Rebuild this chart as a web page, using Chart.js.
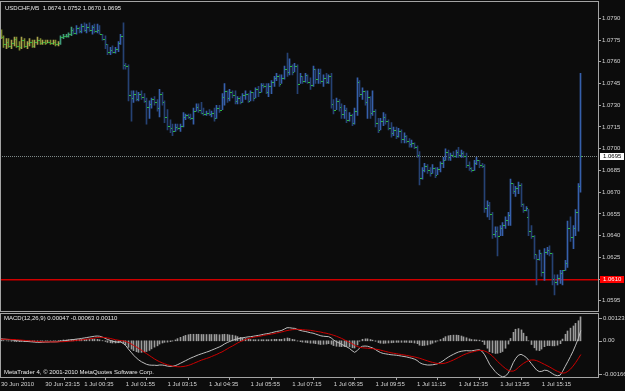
<!DOCTYPE html>
<html>
<head>
<meta charset="utf-8">
<script src="https://cdn.jsdelivr.net/npm/chart.js@4.4.1/dist/chart.umd.min.js"></script>
<style>
  body { margin: 0; background: #0c0c0c; }
  #wrap { position: relative; width: 625px; height: 391px; background: #0c0c0c; overflow: hidden; }
  #wrap canvas { position: absolute; left: 0; }
  #price { top: 0; }
  #macd { top: 312px; }
</style>
</head>
<body>
<div id="wrap">
  <canvas id="price" width="625" height="312"></canvas>
  <canvas id="macd" width="625" height="79"></canvas>
</div>
<script>
// USDCHF M5 bars (bar 0 = first bar on the left)
const symbol = 'USDCHF,M5'

const opens = [
  1.0781, 1.0777, 1.0772, 1.0774, 1.0771, 1.0773, 1.0776, 1.0771, 1.0770, 1.0775,
  1.0771, 1.0773, 1.0774, 1.0771, 1.0774, 1.0775, 1.0773, 1.0774, 1.0773, 1.0774,
  1.0773, 1.0774, 1.0772, 1.0773, 1.0777, 1.0778, 1.0778, 1.0779, 1.0782, 1.0780,
  1.0783, 1.0781, 1.0785, 1.0782, 1.0784, 1.0782, 1.0784, 1.0781, 1.0782, 1.0779,
  1.0776, 1.0772, 1.0767, 1.0768, 1.0767, 1.0769, 1.0773, 1.0778, 1.0758, 1.0757,
  1.0737, 1.0735, 1.0738, 1.0734, 1.0738, 1.0736, 1.0733, 1.0729, 1.0731, 1.0734,
  1.0732, 1.0728, 1.0738, 1.0732, 1.0722, 1.0716, 1.0714, 1.0712, 1.0715, 1.0714,
  1.0716, 1.0722, 1.0723, 1.0722, 1.0721, 1.0726, 1.0729, 1.0727, 1.0725, 1.0724,
  1.0725, 1.0724, 1.0725, 1.0721, 1.0728, 1.0727, 1.0736, 1.0740, 1.0735, 1.0739,
  1.0737, 1.0733, 1.0735, 1.0732, 1.0737, 1.0738, 1.0733, 1.0739, 1.0735, 1.0741,
  1.0739, 1.0744, 1.0743, 1.0739, 1.0743, 1.0746, 1.0749, 1.0750, 1.0745, 1.0749,
  1.0755, 1.0753, 1.0757, 1.0753, 1.0757, 1.0745, 1.0750, 1.0747, 1.0751, 1.0746,
  1.0744, 1.0755, 1.0748, 1.0752, 1.0747, 1.0749, 1.0746, 1.0750, 1.0731, 1.0727,
  1.0733, 1.0729, 1.0724, 1.0727, 1.0720, 1.0723, 1.0718, 1.0726, 1.0746, 1.0738,
  1.0740, 1.0732, 1.0736, 1.0725, 1.0726, 1.0718, 1.0713, 1.0719, 1.0722, 1.0719,
  1.0714, 1.0711, 1.0713, 1.0709, 1.0712, 1.0707, 1.0709, 1.0705, 1.0703, 1.0704,
  1.0701, 1.0696, 1.0680, 1.0685, 1.0688, 1.0685, 1.0683, 1.0687, 1.0682, 1.0686,
  1.0690, 1.0692, 1.0698, 1.0694, 1.0696, 1.0695, 1.0698, 1.0696, 1.0697, 1.0695,
  1.0689, 1.0687, 1.0685, 1.0690, 1.0692, 1.0689, 1.0688, 1.0659, 1.0661, 1.0655,
  1.0641, 1.0643, 1.0640, 1.0645, 1.0647, 1.0651, 1.0654, 1.0676, 1.0671, 1.0673,
  1.0675, 1.0662, 1.0658, 1.0653, 1.0643, 1.0640, 1.0627, 1.0624, 1.0628, 1.0615,
  1.0629, 1.0630, 1.0628, 1.0610, 1.0608, 1.0611, 1.0614, 1.0616, 1.0621, 1.0645,
  1.0639, 1.0645, 1.0656, 1.0674
]
const highs = [
  1.0782, 1.0778, 1.0776, 1.0776, 1.0775, 1.0777, 1.0777, 1.0774, 1.0777, 1.0776,
  1.0774, 1.0776, 1.0775, 1.0775, 1.0777, 1.0776, 1.0775, 1.0775, 1.0775, 1.0775,
  1.0775, 1.0775, 1.0774, 1.0778, 1.0779, 1.0779, 1.0780, 1.0784, 1.0783, 1.0785,
  1.0784, 1.0786, 1.0787, 1.0786, 1.0787, 1.0785, 1.0786, 1.0786, 1.0785, 1.0779,
  1.0778, 1.0772, 1.0770, 1.0771, 1.0770, 1.0774, 1.0779, 1.0787, 1.0759, 1.0758,
  1.0740, 1.0740, 1.0740, 1.0739, 1.0740, 1.0738, 1.0735, 1.0733, 1.0735, 1.0736,
  1.0734, 1.0741, 1.0739, 1.0733, 1.0727, 1.0720, 1.0717, 1.0717, 1.0717, 1.0717,
  1.0725, 1.0724, 1.0724, 1.0724, 1.0728, 1.0731, 1.0731, 1.0732, 1.0728, 1.0726,
  1.0727, 1.0726, 1.0728, 1.0730, 1.0730, 1.0738, 1.0745, 1.0740, 1.0741, 1.0740,
  1.0740, 1.0736, 1.0736, 1.0738, 1.0740, 1.0738, 1.0740, 1.0739, 1.0742, 1.0743,
  1.0745, 1.0745, 1.0745, 1.0745, 1.0747, 1.0750, 1.0752, 1.0751, 1.0751, 1.0757,
  1.0766, 1.0762, 1.0758, 1.0759, 1.0758, 1.0752, 1.0750, 1.0752, 1.0751, 1.0749,
  1.0757, 1.0755, 1.0755, 1.0755, 1.0751, 1.0752, 1.0751, 1.0752, 1.0734, 1.0735,
  1.0734, 1.0731, 1.0730, 1.0728, 1.0725, 1.0724, 1.0728, 1.0749, 1.0747, 1.0742,
  1.0740, 1.0740, 1.0736, 1.0740, 1.0727, 1.0721, 1.0721, 1.0725, 1.0724, 1.0720,
  1.0718, 1.0715, 1.0715, 1.0714, 1.0713, 1.0711, 1.0709, 1.0707, 1.0706, 1.0704,
  1.0702, 1.0698, 1.0687, 1.0690, 1.0689, 1.0687, 1.0689, 1.0687, 1.0687, 1.0691,
  1.0694, 1.0700, 1.0699, 1.0697, 1.0698, 1.0699, 1.0701, 1.0699, 1.0698, 1.0697,
  1.0691, 1.0687, 1.0692, 1.0694, 1.0692, 1.0690, 1.0689, 1.0664, 1.0663, 1.0656,
  1.0646, 1.0646, 1.0647, 1.0649, 1.0653, 1.0656, 1.0679, 1.0676, 1.0674, 1.0677,
  1.0676, 1.0662, 1.0660, 1.0658, 1.0647, 1.0640, 1.0627, 1.0630, 1.0628, 1.0631,
  1.0632, 1.0633, 1.0628, 1.0613, 1.0613, 1.0616, 1.0616, 1.0623, 1.0650, 1.0653,
  1.0647, 1.0658, 1.0676, 1.0752
]
const lows = [
  1.0776, 1.0770, 1.0769, 1.0770, 1.0769, 1.0771, 1.0770, 1.0768, 1.0769, 1.0770,
  1.0769, 1.0771, 1.0770, 1.0770, 1.0772, 1.0772, 1.0772, 1.0772, 1.0773, 1.0772,
  1.0772, 1.0771, 1.0771, 1.0772, 1.0776, 1.0777, 1.0777, 1.0778, 1.0779, 1.0779,
  1.0780, 1.0780, 1.0781, 1.0780, 1.0781, 1.0779, 1.0780, 1.0780, 1.0779, 1.0775,
  1.0769, 1.0765, 1.0765, 1.0766, 1.0766, 1.0767, 1.0772, 1.0755, 1.0755, 1.0733,
  1.0719, 1.0732, 1.0733, 1.0733, 1.0734, 1.0732, 1.0717, 1.0721, 1.0728, 1.0730,
  1.0726, 1.0722, 1.0730, 1.0718, 1.0713, 1.0711, 1.0709, 1.0712, 1.0713, 1.0712,
  1.0715, 1.0720, 1.0721, 1.0720, 1.0717, 1.0726, 1.0725, 1.0724, 1.0723, 1.0723,
  1.0723, 1.0722, 1.0719, 1.0721, 1.0725, 1.0727, 1.0730, 1.0732, 1.0733, 1.0735,
  1.0731, 1.0731, 1.0731, 1.0732, 1.0734, 1.0732, 1.0733, 1.0733, 1.0735, 1.0736,
  1.0739, 1.0742, 1.0738, 1.0736, 1.0738, 1.0743, 1.0747, 1.0743, 1.0745, 1.0748,
  1.0750, 1.0751, 1.0751, 1.0753, 1.0738, 1.0745, 1.0745, 1.0746, 1.0745, 1.0741,
  1.0743, 1.0745, 1.0745, 1.0745, 1.0743, 1.0745, 1.0745, 1.0728, 1.0724, 1.0727,
  1.0726, 1.0721, 1.0721, 1.0718, 1.0719, 1.0716, 1.0717, 1.0723, 1.0736, 1.0734,
  1.0730, 1.0721, 1.0721, 1.0723, 1.0715, 1.0711, 1.0713, 1.0716, 1.0717, 1.0713,
  1.0708, 1.0709, 1.0707, 1.0708, 1.0704, 1.0704, 1.0704, 1.0701, 1.0701, 1.0700,
  1.0694, 1.0675, 1.0679, 1.0684, 1.0683, 1.0681, 1.0683, 1.0680, 1.0682, 1.0684,
  1.0687, 1.0692, 1.0692, 1.0692, 1.0694, 1.0694, 1.0694, 1.0694, 1.0694, 1.0687,
  1.0685, 1.0684, 1.0685, 1.0689, 1.0687, 1.0687, 1.0656, 1.0653, 1.0651, 1.0638,
  1.0639, 1.0626, 1.0640, 1.0640, 1.0645, 1.0647, 1.0647, 1.0669, 1.0667, 1.0669,
  1.0660, 1.0656, 1.0657, 1.0640, 1.0638, 1.0624, 1.0606, 1.0623, 1.0612, 1.0609,
  1.0627, 1.0626, 1.0606, 1.0599, 1.0606, 1.0607, 1.0606, 1.0616, 1.0618, 1.0636,
  1.0631, 1.0640, 1.0643, 1.0670
]
const closes = [
  1.0777, 1.0772, 1.0774, 1.0771, 1.0773, 1.0776, 1.0771, 1.0770, 1.0775, 1.0771,
  1.0773, 1.0774, 1.0771, 1.0774, 1.0775, 1.0773, 1.0774, 1.0773, 1.0774, 1.0773,
  1.0774, 1.0772, 1.0773, 1.0777, 1.0778, 1.0778, 1.0779, 1.0782, 1.0780, 1.0783,
  1.0781, 1.0785, 1.0782, 1.0784, 1.0782, 1.0784, 1.0781, 1.0782, 1.0779, 1.0776,
  1.0772, 1.0767, 1.0768, 1.0767, 1.0769, 1.0773, 1.0778, 1.0758, 1.0757, 1.0737,
  1.0735, 1.0738, 1.0734, 1.0738, 1.0736, 1.0733, 1.0729, 1.0731, 1.0734, 1.0732,
  1.0728, 1.0738, 1.0732, 1.0722, 1.0716, 1.0714, 1.0712, 1.0715, 1.0714, 1.0716,
  1.0722, 1.0723, 1.0722, 1.0721, 1.0726, 1.0729, 1.0727, 1.0725, 1.0724, 1.0725,
  1.0724, 1.0725, 1.0721, 1.0728, 1.0727, 1.0736, 1.0740, 1.0735, 1.0739, 1.0737,
  1.0733, 1.0735, 1.0732, 1.0737, 1.0738, 1.0733, 1.0739, 1.0735, 1.0741, 1.0739,
  1.0744, 1.0743, 1.0739, 1.0743, 1.0746, 1.0749, 1.0750, 1.0745, 1.0749, 1.0755,
  1.0753, 1.0757, 1.0753, 1.0757, 1.0745, 1.0750, 1.0747, 1.0751, 1.0746, 1.0744,
  1.0755, 1.0748, 1.0752, 1.0747, 1.0749, 1.0746, 1.0750, 1.0731, 1.0727, 1.0733,
  1.0729, 1.0724, 1.0727, 1.0720, 1.0723, 1.0718, 1.0726, 1.0746, 1.0738, 1.0740,
  1.0732, 1.0736, 1.0725, 1.0726, 1.0718, 1.0713, 1.0719, 1.0722, 1.0719, 1.0714,
  1.0711, 1.0713, 1.0709, 1.0712, 1.0707, 1.0709, 1.0705, 1.0703, 1.0704, 1.0701,
  1.0696, 1.0680, 1.0685, 1.0688, 1.0685, 1.0683, 1.0687, 1.0682, 1.0686, 1.0690,
  1.0692, 1.0698, 1.0694, 1.0696, 1.0695, 1.0698, 1.0696, 1.0697, 1.0695, 1.0689,
  1.0687, 1.0685, 1.0690, 1.0692, 1.0689, 1.0688, 1.0659, 1.0661, 1.0655, 1.0641,
  1.0643, 1.0640, 1.0645, 1.0647, 1.0651, 1.0654, 1.0676, 1.0671, 1.0673, 1.0675,
  1.0662, 1.0658, 1.0659, 1.0643, 1.0640, 1.0627, 1.0624, 1.0628, 1.0615, 1.0629,
  1.0630, 1.0628, 1.0610, 1.0608, 1.0611, 1.0614, 1.0616, 1.0621, 1.0645, 1.0639,
  1.0645, 1.0656, 1.0674, 1.0695
]

const bidPrice = 1.0695     // grey bid line + white label
const levelPrice = 1.0610   // red horizontal line
const priceTicks = [1.0790, 1.0775, 1.0760, 1.0745, 1.0730, 1.0715, 1.0700,
                    1.0685, 1.0670, 1.0655, 1.0640, 1.0625, 1.0610, 1.0595]

// MACD(12,26,9), values in 0.00001
const MACD_UNIT = 0.00001
const macdMain = [
  9, 8, 7, 6, 4, 3, 1, 0, 0, -2, -3, -4, -5, -6, -7, -7, -7, -6, -6, -5,
  -5, -5, -4, -2, 0, 1, 3, 5, 6, 8, 9, 11, 13, 15, 17, 19, 21, 22, 21, 17,
  12, 6, 2, -2, -5, -6, -5, -12, -22, -38, -52, -66, -78, -88, -96, -102, -108, -111, -112, -112,
  -113, -111, -111, -113, -116, -117, -117, -114, -109, -103, -97, -91, -85, -79, -74, -69, -64, -60, -56, -52,
  -48, -43, -38, -33, -28, -22, -14, -8, -3, 2, 6, 9, 12, 14, 16, 18, 19, 21, 23, 25,
  27, 30, 32, 34, 37, 40, 43, 45, 48, 54, 60, 60, 58, 57, 52, 48, 45, 43, 40, 37,
  35, 31, 27, 23, 21, 20, 19, 13, 3, -4, -10, -16, -22, -28, -35, -45, -53, -45, -32, -25,
  -24, -25, -29, -33, -40, -48, -54, -58, -60, -62, -64, -65, -66, -68, -70, -72, -74, -77, -80, -84,
  -90, -100, -106, -109, -111, -111, -110, -108, -105, -99, -92, -83, -75, -68, -62, -56, -51, -48, -46, -45,
  -46, -46, -44, -42, -41, -48, -64, -86, -110, -125, -140, -152, -160, -166, -161, -150, -128, -100, -80, -66,
  -62, -68, -76, -90, -105, -120, -134, -141, -140, -135, -136, -142, -150, -157, -160, -158, -140, -117, -95, -72,
  -48, -20, 10, 47
]
const macdSignal = [
  7, 7, 7, 7, 6, 6, 5, 4, 3, 2, 1, 0, -1, -2, -3, -4, -5, -5, -5, -5,
  -5, -5, -5, -4, -4, -3, -2, -1, 0, 2, 3, 4, 6, 8, 9, 11, 13, 15, 16, 16,
  15, 13, 11, 8, 5, 3, 1, 0, -3, -8, -14, -21, -28, -35, -43, -51, -59, -67, -75, -83,
  -90, -96, -101, -106, -110, -113, -116, -118, -119, -119, -118, -116, -113, -109, -104, -99, -94, -89, -85, -81,
  -77, -72, -67, -62, -56, -51, -44, -37, -30, -24, -17, -10, -4, 1, 6, 10, 13, 16, 18, 20,
  22, 25, 27, 29, 31, 33, 36, 38, 41, 44, 47, 49, 51, 52, 53, 52, 51, 50, 49, 48,
  46, 44, 42, 40, 37, 35, 32, 29, 25, 21, 16, 11, 5, -1, -7, -13, -20, -26, -30, -32,
  -33, -34, -35, -36, -38, -40, -43, -46, -49, -52, -55, -57, -59, -61, -63, -65, -67, -69, -72, -74,
  -77, -80, -84, -88, -92, -96, -99, -102, -104, -105, -104, -102, -98, -93, -88, -82, -76, -70, -64, -59,
  -55, -52, -49, -46, -44, -44, -47, -52, -60, -70, -82, -95, -106, -117, -127, -135, -139, -139, -133, -122,
  -112, -103, -96, -90, -88, -88, -91, -96, -102, -108, -114, -120, -127, -134, -140, -145, -148, -147, -140, -130,
  -116, -100, -82, -63
]
const macdAxisTicks = [0.00123, 0, -0.00166]

// time axis: bar index -> label
const timeTickBars = [0, 17, 32, 48, 64, 80, 96, 112, 128, 144, 160, 176, 192, 208]
const timeTickLabels = ['30 Jun 2010', '30 Jun 23:15', '1 Jul 00:35', '1 Jul 01:55', '1 Jul 03:15',
  '1 Jul 04:35', '1 Jul 05:55', '1 Jul 07:15', '1 Jul 08:35', '1 Jul 09:55', '1 Jul 11:15',
  '1 Jul 12:35', '1 Jul 13:55', '1 Jul 15:15']

// ---- look ----
const BG = '#0c0c0c'
const FG = '#d4d4d4'
const FRAME = '#a4a4a4'
const FAMILY = '"Liberation Sans", Arial, sans-serif'
const FONT = { family: FAMILY, size: 6 }
const X_MIN = -0.385
const X_MAX = 229.6
const last = closes.length - 1

function barColor(i) {
  const up = closes[i] >= opens[i]
  if (i < 23) return up ? '#a9a54c' : '#808c30'
  if (i < 28) return up ? '#3f9a7a' : '#2f7b5e'
  return up ? '#3660ac' : '#264274'
}

function drawFrame(ctx, top, bottom) {
  ctx.strokeStyle = FRAME
  ctx.lineWidth = 1
  ctx.strokeRect(0.5, top + 0.5, 598, bottom - top)
}

// snap 1px bars onto whole pixels so they stay crisp
function snapBars(meta) {
  meta.data.forEach(el => { el.x = Math.floor(el.x) + 0.5 })
}

const pricePlugin = {
  id: 'mt4price',
  beforeDraw(chart) {
    const ctx = chart.ctx
    ctx.save()
    ctx.fillStyle = BG
    ctx.fillRect(0, 0, chart.width, chart.height)
    ctx.restore()
  },
  beforeDatasetsDraw(chart) {
    const { ctx, chartArea: a, scales: { y } } = chart
    snapBars(chart.getDatasetMeta(0))
    ctx.save()
    ctx.lineWidth = 1
    const yb = Math.round(y.getPixelForValue(bidPrice)) + 0.5
    ctx.strokeStyle = '#7e8888'
    ctx.setLineDash([1, 1])
    ctx.beginPath(); ctx.moveTo(a.left, yb); ctx.lineTo(a.right, yb); ctx.stroke()
    ctx.setLineDash([])
    const yl = Math.round(y.getPixelForValue(levelPrice))
    ctx.fillStyle = '#d00000'
    ctx.fillRect(a.left, yl, a.right - a.left, 1)
    ctx.fillStyle = '#700000'
    ctx.fillRect(a.left, yl + 1, a.right - a.left, 1)
    ctx.restore()
  },
  afterDatasetsDraw(chart) {
    const { ctx, scales: { x, y } } = chart
    ctx.save()
    ctx.fillStyle = '#2fb83e'
    for (let i = 0; i < opens.length; i++) {
      const px = Math.floor(x.getPixelForValue(i))
      ctx.fillRect(px - 1, Math.round(y.getPixelForValue(opens[i])), 1, 1)
      ctx.fillRect(px + 1, Math.round(y.getPixelForValue(closes[i])), 1, 1)
    }
    ctx.restore()
  },
  afterDraw(chart) {
    const { ctx, scales: { y } } = chart
    ctx.save()
    drawFrame(ctx, 1, 311)
    ctx.font = `6px ${FAMILY}`
    ctx.textBaseline = 'middle'
    ctx.textAlign = 'left'
    // price boxes on the axis
    const boxes = [[bidPrice, '#ffffff', '#000000'], [levelPrice, '#ff0000', '#ffffff']]
    boxes.forEach(([p, bg, fg]) => {
      const py = Math.round(y.getPixelForValue(p))
      ctx.fillStyle = bg
      ctx.fillRect(600, py - 3, 24, 7)
      ctx.fillStyle = fg
      ctx.fillText(p.toFixed(4), 603, py + 0.5)
    })
    // title
    ctx.fillStyle = '#e8e8e8'
    const t = `${symbol}  ${opens[last].toFixed(4)} ${highs[last].toFixed(4)} ${lows[last].toFixed(4)} ${closes[last].toFixed(4)}`
    ctx.fillText(t, 5, 8)
    ctx.restore()
  }
}

new Chart(document.getElementById('price'), {
  type: 'bar',
  data: {
    datasets: [{
      data: opens.map((o, i) => ({ x: i, y: [lows[i], highs[i]] })),
      backgroundColor: c => barColor(c.dataIndex),
      barThickness: 1,
      borderWidth: 0,
      grouped: false
    }]
  },
  options: {
    responsive: false,
    animation: false,
    events: [],
    layout: { padding: { top: 2, bottom: 2, left: 0, right: 0 } },
    plugins: { legend: { display: false }, tooltip: { enabled: false } },
    scales: {
      x: { type: 'linear', min: X_MIN, max: X_MAX, offset: false, display: false },
      y: {
        position: 'right',
        min: 1.059045,
        max: 1.07995,
        afterBuildTicks: s => { s.ticks = priceTicks.map(v => ({ value: v })) },
        afterFit: s => { s.width = 27 },
        ticks: { autoSkip: false, padding: 1, color: FG, font: FONT, callback: v => Number(v).toFixed(4) },
        grid: { drawOnChartArea: false, drawTicks: true, tickLength: 3, color: FRAME },
        border: { display: false }
      }
    }
  },
  plugins: [pricePlugin]
})

// ---- MACD window ----
const macdPlugin = {
  id: 'mt4macd',
  beforeDraw(chart) {
    const ctx = chart.ctx
    ctx.save()
    ctx.fillStyle = BG
    ctx.fillRect(0, 0, chart.width, chart.height)
    ctx.restore()
  },
  beforeDatasetsDraw(chart) {
    snapBars(chart.getDatasetMeta(2))
  },
  afterDraw(chart) {
    const { ctx, chartArea: a, scales: { y } } = chart
    ctx.save()
    drawFrame(ctx, 1, 65)
    ctx.font = `6px ${FAMILY}`
    ctx.textBaseline = 'middle'
    ctx.textAlign = 'left'
    ctx.fillStyle = FG
    ctx.strokeStyle = FRAME
    macdAxisTicks.forEach(v => {
      let py = y.getPixelForValue(v)
      py = Math.min(Math.max(py, a.top + 4), a.bottom - 3)
      ctx.beginPath(); ctx.moveTo(599, Math.round(py) + 0.5); ctx.lineTo(602, Math.round(py) + 0.5); ctx.stroke()
      ctx.fillText(v === 0 ? '0.00' : v.toFixed(5), 603, py)
    })
    const m = (macdMain[last] * MACD_UNIT).toFixed(5)
    const s = (macdSignal[last] * MACD_UNIT).toFixed(5)
    const h = ((macdMain[last] - macdSignal[last]) * MACD_UNIT).toFixed(5)
    ctx.fillStyle = '#e8e8e8'
    ctx.fillText(`MACD(12,26,9) ${m} ${s} ${h}`, 4, 6.5)
    ctx.fillText('MetaTrader 4, \u00a9 2001-2010 MetaQuotes Software Corp.', 4, 60)
    ctx.restore()
  }
}

new Chart(document.getElementById('macd'), {
  type: 'bar',
  data: {
    datasets: [
      {
        type: 'line',
        data: macdSignal.map((v, i) => ({ x: i, y: v * MACD_UNIT })),
        borderColor: '#cc0000',
        borderWidth: 1,
        pointRadius: 0,
        order: 1
      },
      {
        type: 'line',
        data: macdMain.map((v, i) => ({ x: i, y: v * MACD_UNIT })),
        borderColor: '#bdbdbd',
        borderWidth: 1,
        pointRadius: 0,
        order: 2
      },
      {
        type: 'bar',
        data: macdMain.map((v, i) => ({ x: i, y: (v - macdSignal[i]) * MACD_UNIT })),
        backgroundColor: '#9c9c9c',
        barThickness: 1,
        borderWidth: 0,
        order: 3
      }
    ]
  },
  options: {
    responsive: false,
    animation: false,
    events: [],
    layout: { padding: { top: 2, bottom: 0, left: 0, right: 0 } },
    plugins: { legend: { display: false }, tooltip: { enabled: false } },
    scales: {
      x: {
        type: 'linear',
        min: X_MIN,
        max: X_MAX,
        offset: false,
        position: 'bottom',
        afterBuildTicks: s => { s.ticks = timeTickBars.map(v => ({ value: v })) },
        afterFit: s => { s.height = 14 },
        ticks: {
          autoSkip: false, maxRotation: 0, align: 'start', padding: 1,
          color: FG, font: FONT,
          callback: v => timeTickLabels[timeTickBars.indexOf(v)]
        },
        grid: { drawOnChartArea: false, drawTicks: true, tickLength: 3, color: FRAME },
        border: { display: false }
      },
      y: {
        position: 'right',
        min: -0.00166,
        max: 0.00123,
        afterFit: s => { s.width = 27 },
        ticks: { display: false },
        grid: { display: false },
        border: { display: false }
      }
    }
  },
  plugins: [macdPlugin]
})
</script>
</body>
</html>
